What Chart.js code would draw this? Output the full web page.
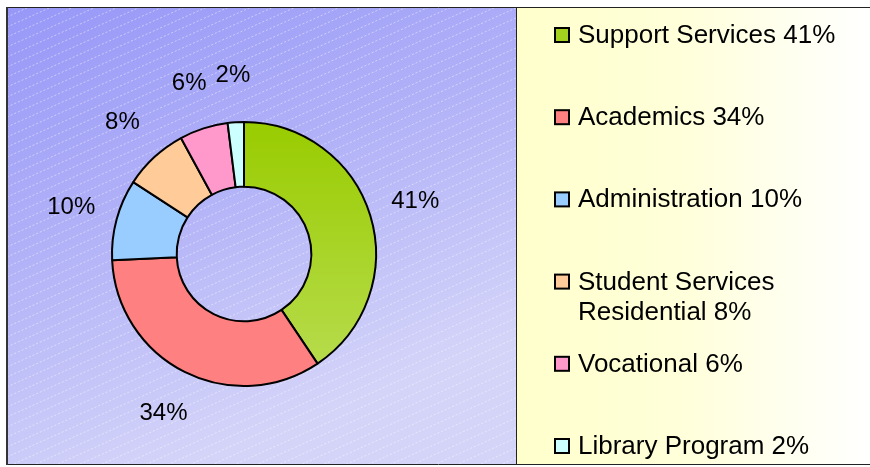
<!DOCTYPE html>
<html>
<head>
<meta charset="utf-8">
<script src="https://cdn.jsdelivr.net/npm/chart.js@4/dist/chart.umd.min.js"></script>
<style>
	html, body { margin: 0; padding: 0; background: #fff; }
	#wrap { width: 870px; height: 467px; }
</style>
</head>
<body>
<div id="wrap"><canvas id="myChart" width="870" height="467"></canvas></div>
<script>
// chart data
var categoryNames = ['Support Services', 'Academics', 'Administration', 'Student Services Residential', 'Vocational', 'Library Program'];
var categoryValues = [41, 34, 10, 8, 6, 2];

// slice colours, same order as the categories
var sliceColors = ['#a3d11e', '#ff8080', '#99ccff', '#ffcc99', '#ff99cc', '#ccffff'];

var FONT = '"Liberation Sans", Arial, sans-serif';

// blue plot panel with hatching on the left, pale yellow legend panel on the right
var panelPlugin = {
	id: 'panels',
	beforeDraw: function(chart) {
		var ctx = chart.ctx;
		ctx.save();
		ctx.fillStyle = '#fff';
		ctx.fillRect(0, 0, chart.width, chart.height);

		// plot panel gradient
		var g = ctx.createLinearGradient(7, 7, 180, 464);
		g.addColorStop(0, '#9797f8');
		g.addColorStop(0.5, '#b2b2f8');
		g.addColorStop(1, '#d4d4f9');
		ctx.fillStyle = g;
		ctx.fillRect(7, 7, 509, 457);

		// faint dashed diagonal hatching
		ctx.beginPath();
		ctx.rect(7, 7, 509, 457);
		ctx.clip();
		ctx.strokeStyle = 'rgba(255,255,255,0.45)';
		ctx.lineWidth = 1;
		ctx.setLineDash([2, 2]);
		for (var c = 0; c < 457 + 509 * 0.45 + 20; c += 10) {
			ctx.beginPath();
			ctx.moveTo(7, 7 + c);
			ctx.lineTo(516, 7 + c - 509 * 0.45);
			ctx.stroke();
		}
		ctx.restore();

		// legend panel
		ctx.save();
		var lg = ctx.createLinearGradient(516, 0, 870, 0);
		lg.addColorStop(0, '#ffffcc');
		lg.addColorStop(0.45, '#ffffd9');
		lg.addColorStop(1, '#ffffff');
		ctx.fillStyle = lg;
		ctx.fillRect(516, 7, 354, 457);

		// frame lines
		ctx.strokeStyle = '#222';
		ctx.lineWidth = 1;
		ctx.beginPath();
		ctx.moveTo(7, 7.5); ctx.lineTo(870, 7.5);
		ctx.moveTo(7, 464.5); ctx.lineTo(870, 464.5);
		ctx.moveTo(516.5, 7); ctx.lineTo(516.5, 464);
		ctx.stroke();
		ctx.lineWidth = 2;
		ctx.strokeStyle = '#333';
		ctx.beginPath();
		ctx.moveTo(7, 7); ctx.lineTo(7, 465);
		ctx.stroke();
		ctx.restore();
	}
};

// percentage labels outside each slice
var labelPlugin = {
	id: 'sliceLabels',
	afterDatasetsDraw: function(chart) {
		var ctx = chart.ctx;
		var meta = chart.getDatasetMeta(0);
		ctx.save();
		ctx.font = '24px ' + FONT;
		ctx.fillStyle = '#000';
		ctx.textAlign = 'center';
		ctx.textBaseline = 'middle';
		meta.data.forEach(function(arc, i) {
			var p = arc.getProps(['x', 'y', 'startAngle', 'endAngle', 'outerRadius'], true);
			var mid = (p.startAngle + p.endAngle) / 2;
			var r = p.outerRadius + 47;
			ctx.fillText(categoryValues[i] + '%', p.x + Math.cos(mid) * r, p.y + Math.sin(mid) * r);
		});
		ctx.restore();
	}
};

// split a legend label into lines that fit the panel
function wrapText(ctx, text, maxWidth) {
	var words = text.split(' ');
	var lines = [];
	var line = '';
	for (var i = 0; i < words.length; i++) {
		var test = line ? line + ' ' + words[i] : words[i];
		if (line && ctx.measureText(test).width > maxWidth) {
			lines.push(line);
			line = words[i];
		} else {
			line = test;
		}
	}
	lines.push(line);
	return lines;
}

// legend drawn by hand so the rows can be spaced like the original
var legendPlugin = {
	id: 'sideLegend',
	afterDraw: function(chart) {
		var ctx = chart.ctx;
		ctx.save();
		ctx.font = '26px ' + FONT;
		ctx.textAlign = 'left';
		ctx.textBaseline = 'alphabetic';
		for (var i = 0; i < categoryNames.length; i++) {
			var baseline = 43 + i * 82.2;
			ctx.fillStyle = sliceColors[i];
			ctx.fillRect(555, baseline - 15, 14, 14);
			ctx.strokeStyle = '#000';
			ctx.lineWidth = 2;
			ctx.strokeRect(555, baseline - 15, 14, 14);

			ctx.fillStyle = '#000';
			var lines = wrapText(ctx, categoryNames[i] + ' ' + categoryValues[i] + '%', 285);
			for (var j = 0; j < lines.length; j++) {
				ctx.fillText(lines[j], 578, baseline + j * 30);
			}
		}
		ctx.restore();
	}
};

// green slice is shaded top to bottom like the original
function sliceFill(context) {
	var i = context.dataIndex;
	if (i === 0) {
		var g = context.chart.ctx.createLinearGradient(0, 122, 0, 386);
		g.addColorStop(0, '#99cc00');
		g.addColorStop(1, '#b9dd52');
		return g;
	}
	return sliceColors[i];
}

var myDoughnutChart = new Chart(document.getElementById('myChart'), {
	type: 'doughnut',
	data: {
		labels: categoryNames,
		datasets: [{
			data: categoryValues,
			backgroundColor: sliceFill,
			borderColor: '#000',
			borderWidth: 2,
			hoverOffset: 0
		}]
	},
	options: {
		responsive: false,
		animation: false,
		radius: 132,
		cutout: '51%',
		layout: { padding: { left: 100, right: 482, top: 100, bottom: 59 } },
		plugins: {
			legend: { display: false },
			tooltip: { enabled: false }
		}
	},
	plugins: [panelPlugin, labelPlugin, legendPlugin]
});
</script>
</body>
</html>
